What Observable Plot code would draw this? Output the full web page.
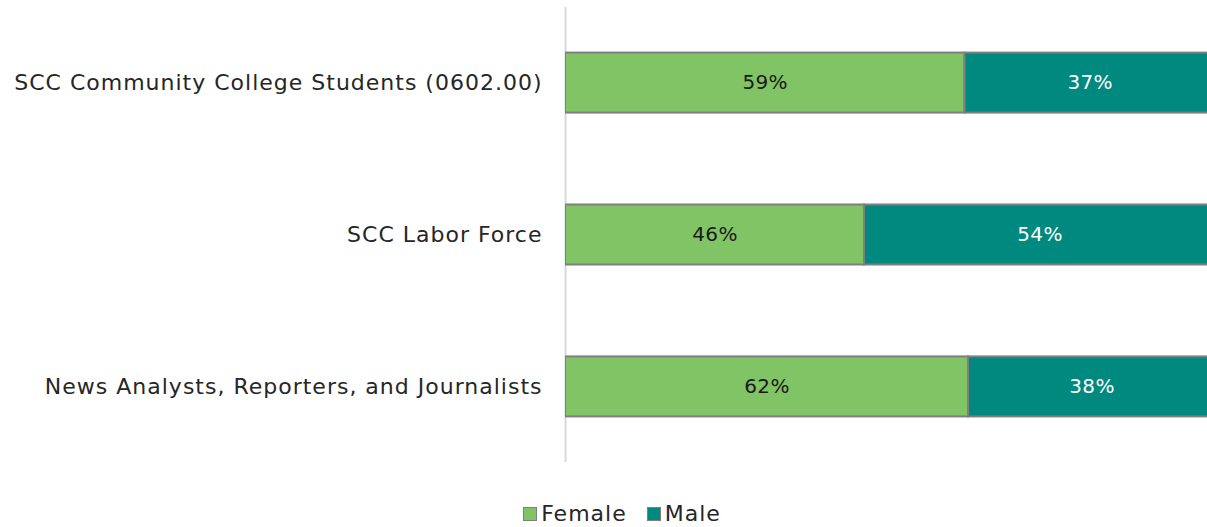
<!DOCTYPE html>
<html>
<head>
<meta charset="utf-8">
<script src="https://cdn.jsdelivr.net/npm/d3@7"></script>
<script src="https://cdn.jsdelivr.net/npm/@observablehq/plot@0.6"></script>
<style>
  html, body { margin: 0; padding: 0; background: #fff; }
  body { width: 1207px; height: 527px; overflow: hidden; font-family: "DejaVu Sans", sans-serif; }
  #legend { display: flex; justify-content: center; align-items: center; gap: 20px; font-size: 22px; letter-spacing: 1px; color: #262626; height: 37px; margin-top: 5px; margin-left: 37px; }
  .item { display: flex; align-items: center; gap: 4px; }
  .sw { width: 14px; height: 14px; border: 1.5px solid #7f7f7f; box-sizing: border-box; }
  svg g[aria-label="y-axis tick label"] text { letter-spacing: 1px; }
  svg g[aria-label="text"] text { letter-spacing: 0.3px; }
</style>
</head>
<body>
<div id="chart"></div>
<div id="legend"></div>
<script>
const categories = ["SCC Community College Students (0602.00)", "SCC Labor Force", "News Analysts, Reporters, and Journalists"];
const female = [59, 46, 62];
const male = [37, 54, 38];
const series = ["Female", "Male"];
const colors = ["#81c465", "#00897f"];
const labelColors = ["#1a1a1a", "#ffffff"];

const data = [];
categories.forEach((c, i) => {
  data.push({cat: c, sex: "Female", value: female[i]});
  data.push({cat: c, sex: "Male", value: male[i]});
});

const chart = Plot.plot({
  width: 1207,
  height: 490,
  marginLeft: 565,
  marginRight: 0,
  marginTop: 7,
  marginBottom: 28,
  style: {fontFamily: "'DejaVu Sans', sans-serif", fontSize: "22px", color: "#262626", overflow: "hidden"},
  x: {domain: [0, 642 / 650], axis: null},
  y: {domain: categories, paddingInner: 0.605, paddingOuter: 0.3, round: false, label: null, tickSize: 0, tickPadding: 23},
  color: {domain: series, range: colors},
  marks: [
    Plot.ruleX([0], {stroke: "#d9d9d9", strokeWidth: 2}),
    Plot.barX(data, Plot.stackX({x: "value", y: "cat", z: "sex", fill: "sex", offset: "normalize", stroke: "#7f7f7f", strokeWidth: 2, clip: true})),
    Plot.text(data, Plot.stackX({x: "value", y: "cat", z: "sex", offset: "normalize",
      text: d => d.value + "%", fill: d => labelColors[series.indexOf(d.sex)], fontSize: 20, clip: true}))
  ]
});
document.getElementById("chart").appendChild(chart);

const legend = document.getElementById("legend");
series.forEach((s, i) => {
  const it = document.createElement("div");
  it.className = "item";
  const sw = document.createElement("div");
  sw.className = "sw";
  sw.style.background = colors[i];
  const t = document.createElement("span");
  t.textContent = s;
  it.appendChild(sw); it.appendChild(t);
  legend.appendChild(it);
});
</script>
</body>
</html>
